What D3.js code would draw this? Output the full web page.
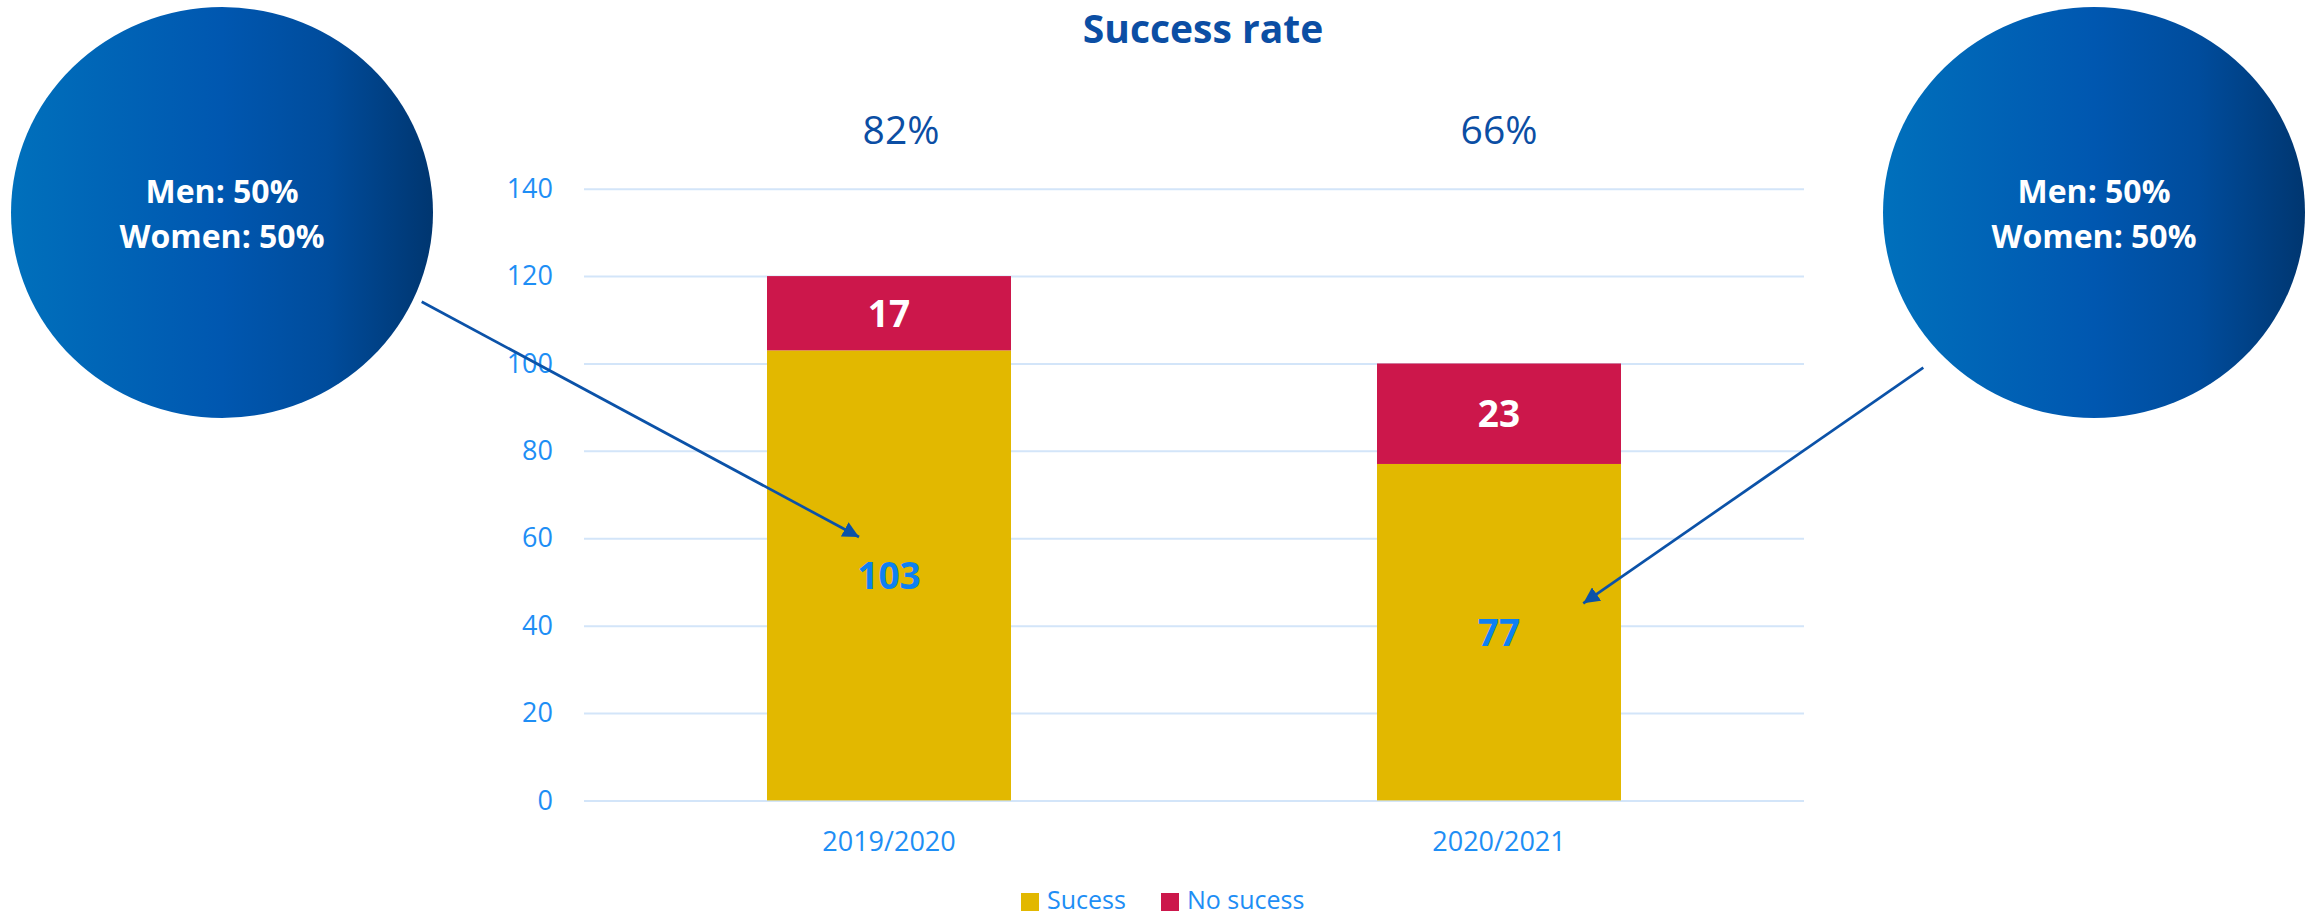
<!DOCTYPE html>
<html>
<head>
<meta charset="utf-8">
<script src="https://cdn.jsdelivr.net/npm/d3@7/dist/d3.min.js"></script>
<style>
  html, body { margin: 0; padding: 0; background: #ffffff; }
  svg { display: block; }
</style>
</head>
<body>
<svg id="chart" width="2311" height="917"></svg>
<script>
// ---- data ----
const categories = ["2019/2020", "2020/2021"];
const seriesNames = ["Sucess", "No sucess"];
const successValues = [103, 77];
const noSuccessValues = [17, 23];
const rateLabels = ["82%", "66%"];
const yTicks = [0, 20, 40, 60, 80, 100, 120, 140];
const genderLines = ["Men: 50%", "Women: 50%"];

// ---- styles ----
const COLORS = { success: "#E2B800", fail: "#CC174B" };
const AXIS_COLOR = "#1E8EF5";
const DARK_BLUE = "#0B4EA4";
const FONT = "'Open Sans', 'Noto Sans', sans-serif";

const svg = d3.select("#chart");
const plot = { left: 584, right: 1804, top: 188.7, bottom: 800.4 };

const x = d3.scaleBand().domain(categories)
  .range([plot.left, plot.right]).paddingInner(0.6).paddingOuter(0.3);
const y = d3.scaleLinear().domain([0, 140]).range([plot.bottom, plot.top]);

// gridlines + y labels
const yAxis = d3.axisLeft(y).tickValues(yTicks)
  .tickSize(-(plot.right - plot.left)).tickPadding(31);
const gy = svg.append("g").attr("transform", `translate(${plot.left},0)`).call(yAxis);
gy.select(".domain").remove();
gy.selectAll(".tick line").attr("stroke", "#D3E5F9").attr("stroke-width", 2);
gy.selectAll(".tick text").attr("fill", AXIS_COLOR)
  .style("font-family", FONT).style("font-size", "27px");

// stacked bars
const rows = categories.map((c, i) => ({ cat: c, success: successValues[i], fail: noSuccessValues[i] }));
const stacked = d3.stack().keys(["success", "fail"])(rows);
const colorOf = { success: COLORS.success, fail: COLORS.fail };

svg.append("g").selectAll("g").data(stacked).join("g")
  .attr("fill", d => colorOf[d.key])
  .selectAll("rect").data(d => d).join("rect")
  .attr("x", d => x(d.data.cat))
  .attr("width", x.bandwidth())
  .attr("y", d => y(d[1]))
  .attr("height", d => y(d[0]) - y(d[1]));

// segment labels
const labelColor = { success: "#0D80F2", fail: "#FFFFFF" };
svg.append("g").selectAll("g").data(stacked).join("g")
  .selectAll("text").data(d => d.map(p => ({ p, key: d.key }))).join("text")
  .attr("x", d => x(d.p.data.cat) + x.bandwidth() / 2)
  .attr("y", d => (y(d.p[0]) + y(d.p[1])) / 2)
  .attr("dy", "0.36em")
  .attr("text-anchor", "middle")
  .attr("fill", d => labelColor[d.key])
  .style("font-family", FONT).style("font-weight", 700).style("font-size", "37px")
  .text(d => d.p[1] - d.p[0]);

// x axis labels
svg.append("g").selectAll("text").data(categories).join("text")
  .attr("x", d => x(d) + x.bandwidth() / 2)
  .attr("y", 851)
  .attr("text-anchor", "middle")
  .attr("fill", AXIS_COLOR)
  .style("font-family", FONT).style("font-size", "27px")
  .text(d => d);

// rate labels above
svg.append("g").selectAll("text").data(rateLabels).join("text")
  .attr("x", (d, i) => x(categories[i]) + x.bandwidth() / 2)
  .attr("dx", (d, i) => i === 0 ? 12 : 0)
  .attr("y", 144)
  .attr("text-anchor", "middle")
  .attr("fill", DARK_BLUE)
  .style("font-family", FONT).style("font-size", "39px")
  .text(d => d);

// title
svg.append("text")
  .attr("x", 1203).attr("y", 43)
  .attr("text-anchor", "middle")
  .attr("fill", DARK_BLUE)
  .style("font-family", FONT).style("font-weight", 700).style("font-size", "39px")
  .text("Success rate");

// legend
const legendItems = [
  { name: seriesNames[0], color: COLORS.success, x: 1021 },
  { name: seriesNames[1], color: COLORS.fail, x: 1161 }
];
const lg = svg.append("g").selectAll("g").data(legendItems).join("g")
  .attr("transform", d => `translate(${d.x},893)`);
lg.append("rect").attr("width", 18).attr("height", 18).attr("fill", d => d.color);
lg.append("text").attr("x", 26).attr("y", 16)
  .attr("fill", AXIS_COLOR)
  .style("font-family", FONT).style("font-size", "25px")
  .text(d => d.name);

// gradient for bubbles
const defs = svg.append("defs");
const grad = defs.append("linearGradient").attr("id", "bubbleGrad")
  .attr("x1", "0%").attr("x2", "100%").attr("y1", "0%").attr("y2", "0%");
[["0%", "#0070BC"], ["50%", "#0057B0"], ["75%", "#004C9C"], ["100%", "#003670"]]
  .forEach(([o, c]) => grad.append("stop").attr("offset", o).attr("stop-color", c));

defs.append("marker").attr("id", "arrow")
  .attr("viewBox", "0 0 10 10").attr("refX", 10).attr("refY", 5)
  .attr("markerWidth", 6).attr("markerHeight", 6).attr("markerUnits", "strokeWidth")
  .attr("orient", "auto")
  .append("path").attr("d", "M0,0 L10,5 L0,10 Z").attr("fill", "#0B52A8");

// bubbles: one per category, pointing at the success segment
const bubbles = [
  { cx: 222, cy: 212.5, from: [421.7, 301.7], to: [859, 537] },
  { cx: 2094, cy: 212.5, from: [1923.3, 367.7], to: [1583.3, 603.3] }
];
const bg = svg.append("g").selectAll("g").data(bubbles).join("g");
bg.append("ellipse")
  .attr("cx", d => d.cx).attr("cy", d => d.cy)
  .attr("rx", 211).attr("ry", 205.5)
  .attr("fill", "url(#bubbleGrad)");
bg.append("text")
  .attr("x", d => d.cx).attr("y", 203)
  .attr("text-anchor", "middle").attr("fill", "#FFFFFF")
  .style("font-family", FONT).style("font-weight", 700).style("font-size", "32px")
  .selectAll("tspan").data(genderLines).join("tspan")
  .attr("x", function () { return d3.select(this.parentNode).attr("x"); })
  .attr("dy", (d, i) => i === 0 ? 0 : 45)
  .text(d => d);
bg.append("line")
  .attr("x1", d => d.from[0]).attr("y1", d => d.from[1])
  .attr("x2", d => d.to[0]).attr("y2", d => d.to[1])
  .attr("stroke", "#0B52A8").attr("stroke-width", 2.7)
  .attr("marker-end", "url(#arrow)");
</script>
</body>
</html>
